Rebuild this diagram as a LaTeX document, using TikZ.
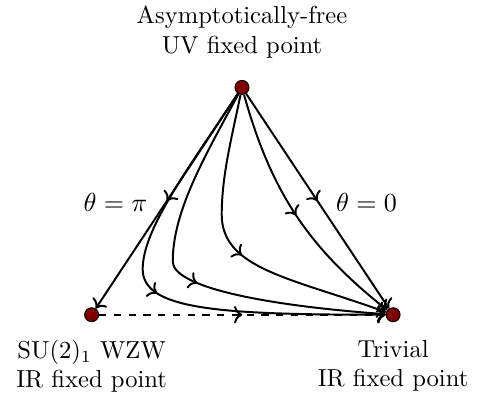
\documentclass[tikz,border=0pt]{standalone}
\usetikzlibrary{arrows.meta, positioning, decorations.markings}
\definecolor{fixedRed}{HTML}{800000}

\begin{document}
\begin{tikzpicture}[
    fixpt/.style={circle, draw=black, fill=fixedRed, inner sep=0pt, minimum size=0.2cm},
    flow/.style={thick, ->, postaction={decorate},
      decoration={markings, mark=at position #1 with {\arrow{>}}}},
    flow/.default=0.5]
  \useasboundingbox (0,0) rectangle (6.82,5.64);
  % fixed points
  \node[fixpt] (uv) at (3.46,4.39) {};
  \node[fixpt] (wzw) at (1.31,1.14) {};
  \node[fixpt] (triv) at (5.62,1.14) {};
  \node[above=0.19cm of uv, align=center] (uvlabel) {Asymptotically-free\\UV fixed point};
  \node[below=0.13cm of wzw, align=center] (wzwlabel) {SU(2)$_1$ WZW\\IR fixed point};
  \node[below=0.13cm of triv, align=center] (trivlabel) {Trivial\\IR fixed point};
  \node[scale=1.06] (pilabel) at (1.65,2.74) {$\theta=\pi$};
  \node[scale=1.06] (zerolabel) at (5.24,2.74) {$\theta=0$};
  % theta = pi and theta = 0 edges
  \draw[flow] (uv) -- (wzw);
  \draw[flow] (uv) -- (triv);
  \draw[flow, dashed] (wzw) -- (triv);
  % flows in between
  \draw[flow=0.5] (uv) .. controls (2.67,3.20) and (2.04,2.36) .. (2.04,1.79)
    .. controls (2.04,1.21) and (3.14,1.14) .. (triv);
  \draw[flow=0.53] (uv) .. controls (2.92,3.39) and (2.47,2.62) .. (2.47,1.90)
    .. controls (2.47,1.57) and (3.57,1.29) .. (triv);
  \draw[flow=0.52] (uv) .. controls (3.32,3.70) and (3.17,3.14) .. (3.17,2.57)
    .. controls (3.17,1.79) and (4.19,1.66) .. (triv);
  \draw[flow=0.5] (uv) to[bend right=18] (triv);
\end{tikzpicture}
\end{document}
